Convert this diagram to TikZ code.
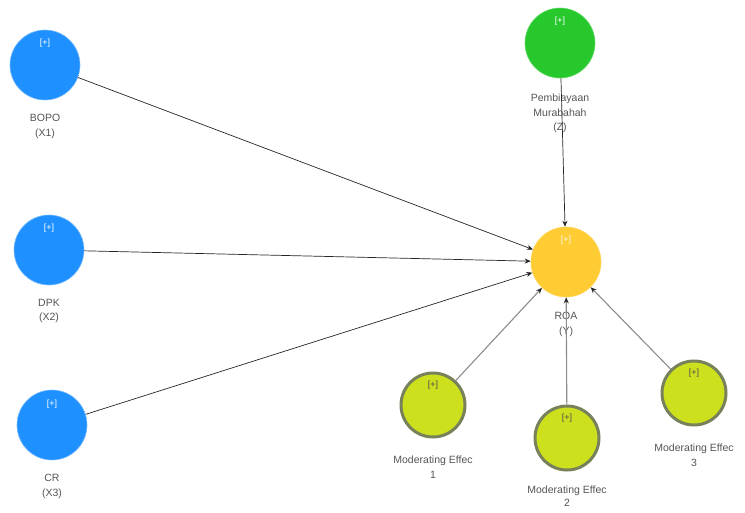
\documentclass[tikz,border=0pt]{standalone}
\usepackage{fontspec}
\setmainfont{Liberation Sans}
\usetikzlibrary{arrows.meta}
\definecolor{cblue}{RGB}{30,144,255}
\definecolor{cgreen}{RGB}{38,200,44}
\definecolor{cyellow}{RGB}{255,204,51}
\definecolor{cmod}{RGB}{204,224,30}
\definecolor{cmodb}{RGB}{120,130,90}
\definecolor{ctext}{RGB}{85,85,85}
\tikzset{
  lv/.style={circle, minimum size=70pt, inner sep=0pt},
  lvblue/.style={lv, fill=cblue, draw=cblue!60, line width=0.6pt},
  lvgreen/.style={lv, fill=cgreen, draw=cgreen!70, line width=0.6pt},
  lvyellow/.style={lv, fill=cyellow, draw=cyellow!80, line width=0.6pt},
  lvmod/.style={lv, minimum size=64pt, fill=cmod, draw=cmodb, line width=3pt},
  plus/.style={font=\fontsize{9}{10}\selectfont, text=white},
  plusdark/.style={font=\fontsize{9}{10}\selectfont, text=black!70},
  lbl/.style={font=\fontsize{10.5}{14.5}\selectfont, text=ctext, align=center, anchor=north, inner sep=0pt},
  path1/.style={draw=black!85, line width=0.7pt, -{Stealth[length=6pt,width=5pt]}},
  path2/.style={draw=black!45, line width=1.1pt, -{Stealth[length=6pt,width=5pt,color=black!85]}},
}
\begin{document}
\begin{tikzpicture}[x=1pt,y=-1pt]
\useasboundingbox[fill=white] (0,0) rectangle (745,512);
% nodes
\node[lvblue] (x1) at (45,65) {};
\node[lvblue] (x2) at (49,250) {};
\node[lvblue] (x3) at (52,425) {};
\node[lvgreen] (z) at (560,43) {};
\node[lvyellow] (y) at (566,262) {};
\node[lvmod] (m1) at (433,405) {};
\node[lvmod] (m2) at (567,438) {};
\node[lvmod] (m3) at (694,393) {};
% [+] markers
\node[plus] (p1) at (45,43) {[+]};
\node[plus] (p2) at (49,228) {[+]};
\node[plus] (p3) at (52,404) {[+]};
\node[plus] (p4) at (560,21) {[+]};
\node[plus, text=white!90!cyellow] (p5) at (566,240) {[+]};
\node[plusdark] (p6) at (433,385) {[+]};
\node[plusdark] (p7) at (567,418) {[+]};
\node[plusdark] (p8) at (694,373) {[+]};
% labels
\node[lbl] (l1) at (45,114) {BOPO\\(X1)};
\node[lbl] (l2) at (49,299) {DPK\\(X2)};
\node[lbl] (l3) at (52,474) {CR\\(X3)};
\node[lbl] (l4) at (560,94) {Pembiayaan\\Murabahah\\(Z)};
\node[lbl] (l5) at (566,312) {ROA\\(Y)};
\node[lbl] (l6) at (433,456) {Moderating Effec\\1};
\node[lbl, font=\fontsize{10.5}{13}\selectfont] (l7) at (567,486) {Moderating Effec\\2};
\node[lbl] (l8) at (694,444) {Moderating Effec\\3};
% connectors
\draw[path1] (x1) -- (y);
\draw[path1] (x2) -- (y);
\draw[path1] (x3) -- (y);
\draw[path1] (z) -- (y);
\draw[path2] (m1) -- (y);
\draw[path2] (m2) -- (y);
\draw[path2] (m3) -- (y);
\end{tikzpicture}
\end{document}
